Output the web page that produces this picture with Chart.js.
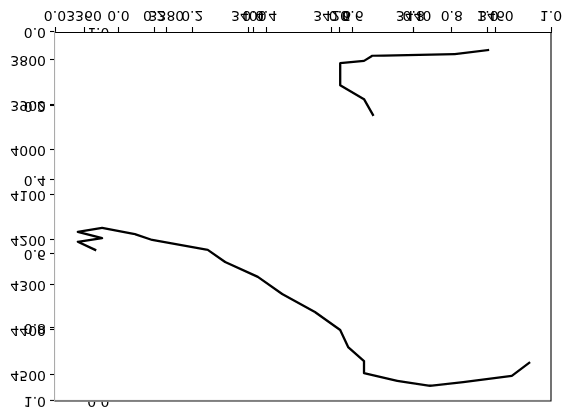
<!DOCTYPE html>
<html>
<head>
<meta charset="utf-8">
<script src="https://cdn.jsdelivr.net/npm/chart.js@4/dist/chart.umd.min.js"></script>
<style>
  html, body { margin: 0; padding: 0; background: #fff; }
  #wrap { width: 572px; height: 418px; transform: scaleY(-1); transform-origin: 50% 50%; }
  canvas { display: block; }
</style>
</head>
<body>
<div id="wrap"><canvas id="c" width="572" height="418"></canvas></div>
<script>
// ---- data ----
const fracTicks = [0.0, 0.2, 0.4, 0.6, 0.8, 1.0];
const depthTicks = [3800, 3900, 4000, 4100, 4200, 4300, 4400, 4500];
const upperTicks = [3360, 3380, 3400, 3420, 3440, 3460];
const squareTicks = [0.0, 0.2, 0.4, 0.6, 0.8, 1.0];

// upper segment (x as fraction of axis, depth)
const seg1X = [0.873, 0.806, 0.639, 0.623, 0.575, 0.575, 0.623, 0.641];
const seg1Depth = [3778, 3787, 3791, 3802, 3807, 3856, 3887, 3922];
// lower segment
const seg2X = [0.081, 0.046, 0.095, 0.046, 0.095, 0.161, 0.196, 0.308, 0.343, 0.409,
               0.458, 0.524, 0.575, 0.591, 0.623, 0.623, 0.690, 0.756, 0.823, 0.921, 0.956];
const seg2Depth = [4222, 4204, 4196, 4182, 4173, 4187, 4200, 4222, 4249, 4282,
                   4320, 4360, 4400, 4438, 4469, 4496, 4513, 4524, 4516, 4502, 4473];

const toPts = (xs, ys) => xs.map((v, i) => ({ x: v, y: ys[i] }));

const FONT = { family: 'DejaVu Sans', size: 14 };
const tickCommon = { color: '#000', font: FONT, padding: 4, autoSkip: false, maxRotation: 0, minRotation: 0 };
const gridCommon = { drawOnChartArea: false, drawTicks: true, tickLength: 5, tickColor: '#000', tickWidth: 1.1 };

const framePlugin = {
  id: 'frame',
  afterLayout(chart) {
    // overlaid axes take no layout space; widen their label clip boxes afterwards
    ['x2', 'x3'].forEach(id => { const s = chart.scales[id]; s.bottom = s.top + 40; });
    chart.scales.yd.left = 0;
    // the square inset axes' y axis sits at the left edge of the x3 span
    const yc = chart.scales.yc;
    yc.right = chart.scales.x3.getPixelForValue(0);
    yc.left = 0;
  },
  beforeDatasetsDraw(chart) {
    // main axes background hides the inset axes' labels underneath it
    const { ctx, chartArea: a } = chart;
    ctx.save();
    ctx.fillStyle = '#fff';
    ctx.fillRect(a.left + 1, a.top - 1, a.right - a.left - 2, a.bottom - a.top);
    ctx.restore();
  },
  afterDraw(chart) {
    const { ctx, chartArea: a } = chart;
    ctx.save();
    ctx.strokeStyle = '#000';
    ctx.lineWidth = 1.1;
    ctx.beginPath();
    ctx.moveTo(a.left, a.top);
    ctx.lineTo(a.right, a.top);
    ctx.lineTo(a.right, a.bottom);
    ctx.stroke();
    ctx.restore();
  }
};

new Chart(document.getElementById('c'), {
  type: 'line',
  data: {
    datasets: [
      { data: toPts(seg1X, seg1Depth), xAxisID: 'x', yAxisID: 'yd' },
      { data: toPts(seg2X, seg2Depth), xAxisID: 'x', yAxisID: 'yd' }
    ].map(d => Object.assign(d, {
      borderColor: '#000', borderWidth: 2.3, pointRadius: 0, tension: 0,
      borderJoinStyle: 'round', borderCapStyle: 'square', fill: false
    }))
  },
  options: {
    responsive: false,
    devicePixelRatio: 1,
    animation: false,
    layout: { padding: { top: 17, right: 21, left: 0, bottom: 0 } },
    plugins: { legend: { display: false }, tooltip: { enabled: false } },
    scales: {
      x: {
        type: 'linear', position: 'bottom', min: 0, max: 1, weight: 1,
        afterBuildTicks: s => { s.ticks = fracTicks.map(v => ({ value: v })); },
        afterFit: s => { s.height = 32; },
        ticks: Object.assign({}, tickCommon, { callback: v => v.toFixed(1) }),
        grid: gridCommon,
        border: { display: true, color: '#000', width: 1.1 }
      },
      x2: {
        type: 'linear', position: 'bottom', min: 3352.96, max: 3473.36, weight: 0,
        afterBuildTicks: s => { s.ticks = upperTicks.map(v => ({ value: v })); },
        afterFit: s => { s.height = 0; },
        ticks: Object.assign({}, tickCommon, { callback: v => String(v) }),
        grid: gridCommon,
        border: { display: false }
      },
      x3: {
        type: 'linear', position: 'bottom', min: -0.172, max: 1.172, weight: 0,
        afterBuildTicks: s => { s.ticks = squareTicks.map(v => ({ value: v })); },
        afterFit: s => { s.height = 0; },
        ticks: Object.assign({}, tickCommon, { callback: v => v.toFixed(1) }),
        grid: gridCommon,
        border: { display: false }
      },
      y: {
        type: 'linear', position: 'left', min: 0, max: 1, weight: 2,
        afterBuildTicks: s => { s.ticks = fracTicks.map(v => ({ value: v })); },
        afterFit: s => { s.width = 55; },
        ticks: Object.assign({}, tickCommon, { callback: v => v.toFixed(1) }),
        grid: gridCommon,
        border: { display: true, color: '#aaaaaa', width: 1.1 }
      },
      yd: {
        type: 'linear', position: 'left', min: 3737.8, max: 4557.8, weight: 0,
        afterBuildTicks: s => { s.ticks = depthTicks.map(v => ({ value: v })); },
        afterFit: s => { s.width = 0; },
        ticks: Object.assign({}, tickCommon, { callback: v => String(v) }),
        grid: gridCommon,
        border: { display: false }
      },
      yc: {
        type: 'linear', position: 'left', min: 0, max: 1, reverse: true, weight: 0,
        afterBuildTicks: s => { s.ticks = squareTicks.map(v => ({ value: v })); },
        afterFit: s => { s.width = 0; },
        ticks: Object.assign({}, tickCommon, { callback: v => v.toFixed(1) }),
        grid: Object.assign({}, gridCommon, { tickColor: 'rgba(0,0,0,0)' }),
        border: { display: false }
      }
    }
  },
  plugins: [framePlugin]
});
</script>
</body>
</html>
